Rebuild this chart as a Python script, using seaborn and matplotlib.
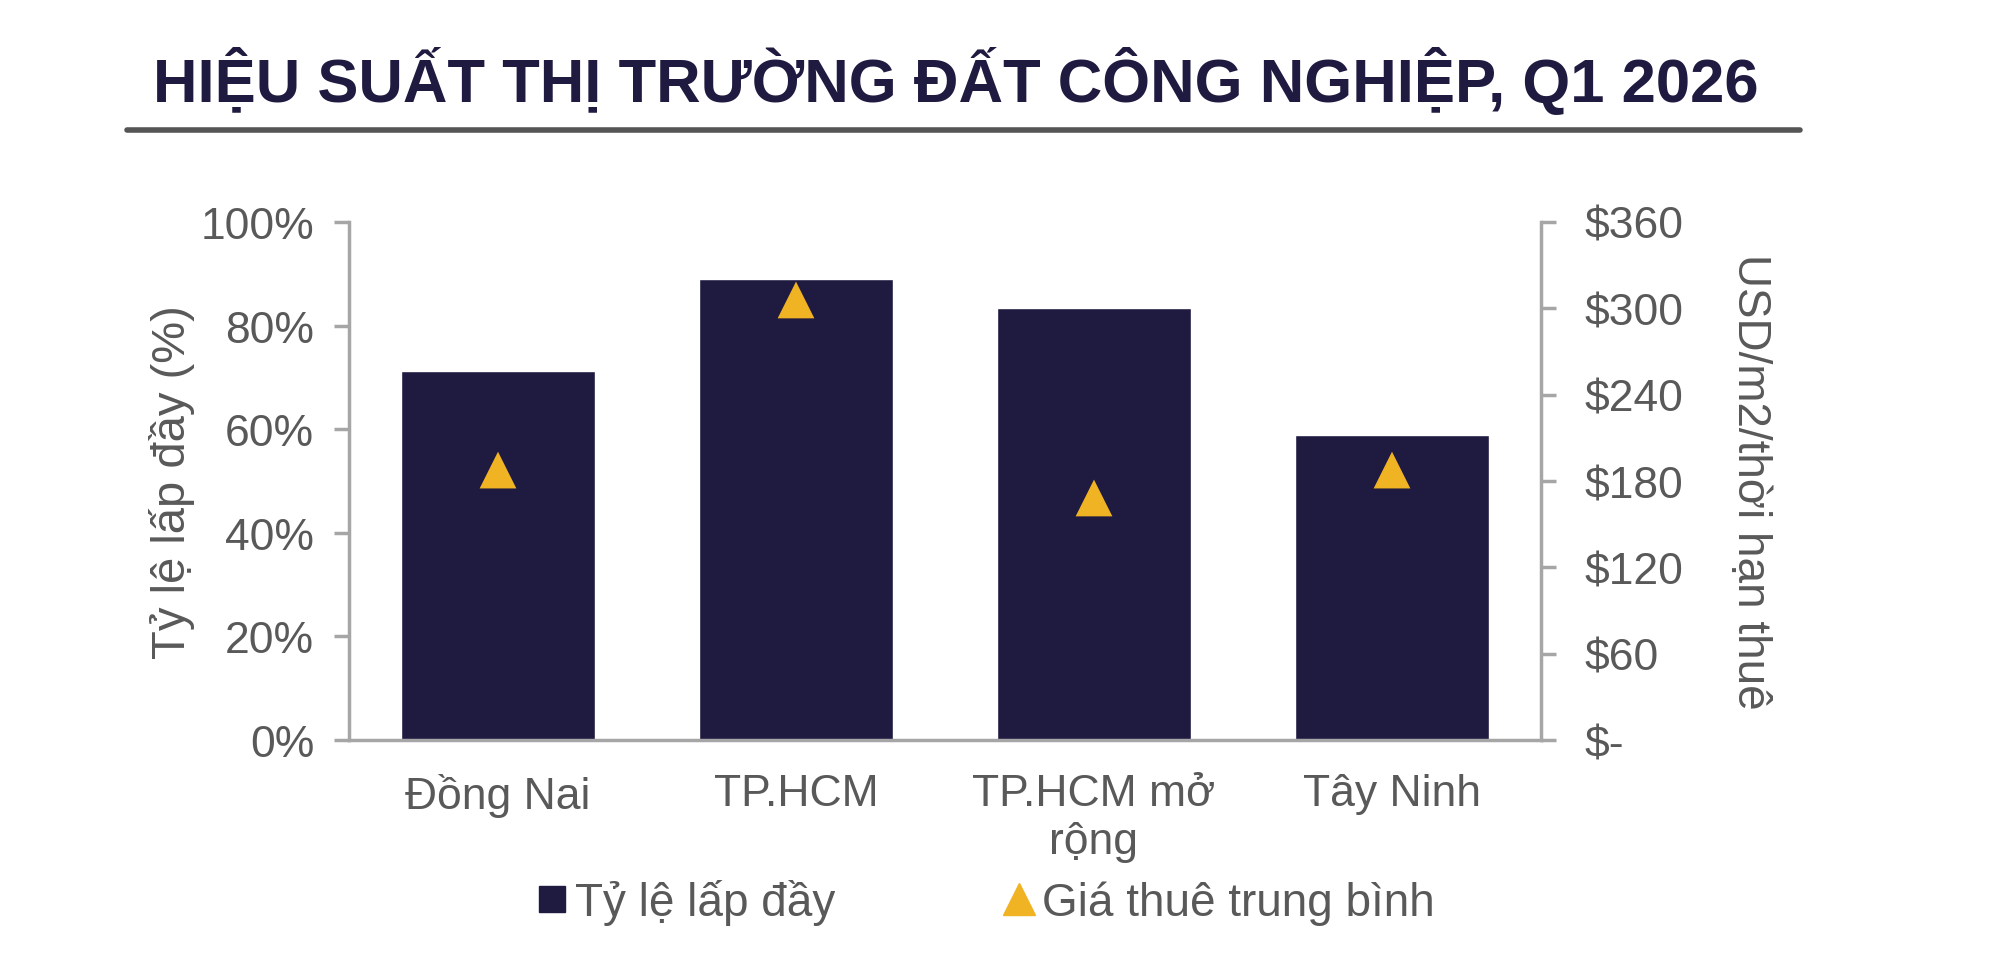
import pandas as pd
import matplotlib
matplotlib.use("Agg")
import matplotlib.pyplot as plt
import matplotlib.ticker as mticker
from matplotlib.lines import Line2D
import seaborn as sns

# values
regions = ["Đồng Nai", "TP.HCM", "TP.HCM mở\nrộng", "Tây Ninh"]
occupancy = [71.2, 89.0, 83.4, 58.9]       # %
avg_rent = [187.6, 305.8, 168.2, 187.6]    # USD/m2/thời hạn thuê

df = pd.DataFrame({"Khu vực": regions, "Tỷ lệ lấp đầy": occupancy, "Giá thuê trung bình": avg_rent})

navy = "#1f1a40"
gold = "#f0b323"
grey_txt = "#595959"
spine_col = "#a6a6a6"

sns.set_style("white")
plt.rcParams["font.family"] = ["Liberation Sans", "DejaVu Sans"]

fig = plt.figure(figsize=(20, 9.78), dpi=100)
ax = fig.add_axes([0.1745, 0.2423, 0.596, 0.5297])

sns.barplot(data=df, x="Khu vực", y="Tỷ lệ lấp đầy", color=navy, width=0.65, ax=ax, saturation=1)

ax2 = ax.twinx()
sns.scatterplot(data=df, x="Khu vực", y="Giá thuê trung bình", marker="^", s=700, color=gold,
                edgecolor="none", ax=ax2, zorder=5)

ax.set_xlim(-0.5, 3.5)
ax.set_ylim(0, 100)
ax2.set_ylim(0, 360)
ax.set_yticks(range(0, 101, 20))
ax.yaxis.set_major_formatter(mticker.FuncFormatter(lambda v, p: f"{v:.0f}%"))
ax2.set_yticks(range(0, 361, 60))
ax2.yaxis.set_major_formatter(mticker.FuncFormatter(lambda v, p: "$-" if v == 0 else f"${v:.0f}"))

# spines
for a in (ax, ax2):
    for s in a.spines.values():
        s.set_visible(False)
ax.spines["left"].set_visible(True)
ax.spines["bottom"].set_visible(True)
ax2.spines["right"].set_visible(True)
for s in (ax.spines["left"], ax.spines["bottom"], ax2.spines["right"]):
    s.set_color(spine_col)
    s.set_linewidth(2.5)

# x ticks: labels at centres, tick marks at category boundaries
ax.set_xticks(range(len(regions)))
ax.set_xticklabels(regions, linespacing=1.2)
ax.set_xticks([-0.5, 0.5, 1.5, 2.5, 3.5], minor=True)
ax.tick_params(axis="x", which="major", length=0, pad=24, labelsize=32, labelcolor=grey_txt)
ax.tick_params(axis="x", which="minor", length=11, width=2.5, color=spine_col, direction="out")
ax.tick_params(axis="y", length=11, width=2.5, color=spine_col, direction="out",
               labelsize=32, labelcolor=grey_txt, pad=14, left=True)
ax2.tick_params(axis="y", length=11, width=2.5, color=spine_col, direction="out",
                labelsize=32, labelcolor=grey_txt, pad=20, right=True)

ax.set_xlabel("")
ax.set_ylabel("Tỷ lệ lấp đầy (%)", fontsize=34, color=grey_txt, labelpad=4)
ax2.set_xlabel("")
ax2.set_ylabel("USD/m2/thời hạn thuê", fontsize=33, color=grey_txt, rotation=270, labelpad=64)

# title and rule
fig.text(0.0765, 0.8957, "HIỆU SUẤT THỊ TRƯỜNG ĐẤT CÔNG NGHIỆP, Q1 2026", fontsize=44.4,
         fontweight="bold", color=navy, ha="left", va="baseline")
fig.add_artist(Line2D([0.0635, 0.9], [0.866, 0.866], color="#555555", linewidth=4))

handles = [
    Line2D([], [], marker="s", linestyle="none", color=navy, markersize=19),
    Line2D([], [], marker="^", linestyle="none", color=gold, markersize=23),
]
fig.legend(handles, ["Tỷ lệ lấp đầy", "Giá thuê trung bình"], loc="center", ncol=2,
           bbox_to_anchor=(0.492, 0.077), frameon=False, fontsize=33, handletextpad=0.1,
           columnspacing=3.6, handlelength=0.8, labelcolor=grey_txt)

fig.savefig("out.png", dpi=100, facecolor="white")
